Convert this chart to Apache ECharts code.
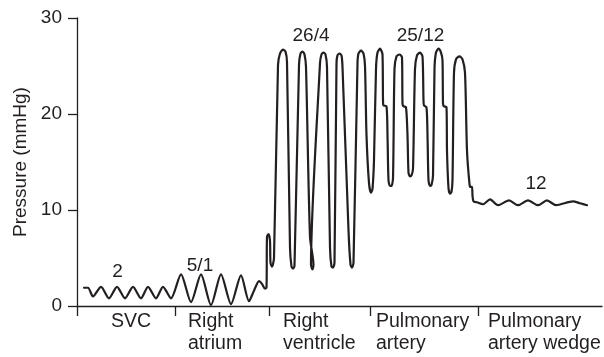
<!DOCTYPE html>
<html>
<head>
<meta charset="utf-8">
<script src="https://cdn.jsdelivr.net/npm/echarts@6/dist/echarts.min.js"></script>
<style>
html,body{margin:0;padding:0;background:#fff;}
#c{width:604px;height:357px;}
</style>
</head>
<body>
<div id="c"></div>
<script>
// Chamber categories (x-axis) and where each region starts / its label sits
var categories = ["SVC", "Right\natrium", "Right\nventricle", "Pulmonary\nartery", "Pulmonary\nartery wedge"];
var boundaries = [0, 98, 192, 293, 401];
var labelPos = [34, 111, 206, 299, 411];
var yTicks = [0, 10, 20, 30];

// Pressure trace (time units, mmHg)
var traceX = [
  7, 11, 16, 24, 32, 40, 48, 56, 64, 71, 79, 86, 94,
  104, 114, 124, 134, 144, 154, 164, 172, 177, 182, 185, 188,
  189.5, 190, 191.5, 193, 193.5, 195,
  197, 201, 203, 206, 208.5, 210, 213, 214.5, 216, 217.5,
  222, 223.5, 225.5, 227.5, 229, 233, 236.5, 235.5, 234,
  243, 244.5, 246.5, 248.5, 250, 253, 254.5, 256, 257.5,
  259.5, 260.5, 262.5, 264.5, 265.5, 271.5, 273.5, 275, 276.5,
  280.5, 281.5, 284, 286.5, 288, 289.5, 292, 294, 295.5,
  297, 299, 300.5, 303, 305.5, 306, 306.5, 309.5, 310.5, 311.5, 313, 314.5, 316,
  317.5, 319.5, 322.5, 325, 325.5, 326.5, 329, 330.5, 331.5, 333, 334.5, 336,
  338, 340, 343, 345.5, 346.5, 347, 349.5, 350.5, 351.5, 353, 354.5, 356,
  357.5, 359, 361.5, 364, 365.5, 366, 367, 369.5, 370, 371.5, 373, 374.5, 375.5,
  377, 379, 382.5, 385.5, 388, 390, 392.5, 393.5, 395, 395.5, 396.5, 400,
  406, 413, 421, 432, 441, 451, 461, 470, 479, 496, 503, 510
];
var traceY = [
  1.9, 1.9, 1.0, 2.0, 0.8, 2.0, 0.8, 2.0, 0.8, 2.0, 0.8, 2.0, 0.8,
  3.3, 0.4, 3.3, 0.1, 3.3, 0.2, 3.2, 0.5, 1.6, 2.6, 2.3, 1.8,
  1.9, 7.2, 7.5, 6.8, 4.5, 4.1,
  5.0, 25.1, 26.3, 26.7, 26.5, 25.4, 6.1, 4.1, 3.9, 4.2,
  25.1, 26.3, 26.5, 26.2, 24.9, 7.2, 4.3, 3.8, 4.3,
  25.3, 26.2, 26.4, 26.2, 24.9, 6.1, 4.1, 4.0, 4.5,
  25.3, 26.1, 26.3, 26.1, 24.9, 7.9, 4.3, 4.0, 4.5,
  25.3, 26.3, 26.6, 26.3, 25.0, 17.8, 12.8, 11.8, 12.2,
  15.2, 24.7, 26.4, 26.8, 26.2, 21.4, 20.9, 20.8, 17.8, 13.1, 12.5, 12.5, 13.3,
  24.7, 26.0, 26.2, 25.9, 21.1, 20.8, 20.7, 17.8, 13.9, 13.5, 13.6, 14.3,
  24.7, 26.1, 26.4, 26.0, 21.4, 20.9, 20.7, 17.8, 13.1, 12.5, 12.6, 13.6,
  24.7, 26.4, 26.8, 26.4, 25.6, 21.1, 20.8, 20.7, 16.2, 12.3, 11.7, 11.9, 13.1,
  24.3, 25.7, 26.0, 25.7, 24.3, 16.2, 12.7, 12.4, 12.4, 11.5, 10.9, 10.8,
  10.6, 11.1, 10.5, 11.0, 10.5, 11.0, 10.5, 11.0, 10.5, 10.9, 10.7, 10.5
];

// Pressure annotations
var annoText = ["2", "5/1", "26/4", "25/12", "12"];
var annoX = [40.5, 123, 234, 343.5, 459];
var annoY = [3.6, 4.2, 28.1, 28.1, 12.7];

var FONT = "'Liberation Sans', Arial, Helvetica, sans-serif";
var INK = "#231f20";

var traceData = traceX.map(function (x, i) { return [x, traceY[i]]; });
var annoData = annoX.map(function (x, i) { return [x, annoY[i], annoText[i]]; });

var chart = echarts.init(document.getElementById('c'), null, {renderer: 'canvas'});
chart.setOption({
  animation: false,
  backgroundColor: '#ffffff',
  grid: {left: 77, right: 2, top: 18, bottom: 51},
  xAxis: {
    type: 'value', min: 0, max: 525,
    splitLine: {show: false},
    axisLine: {show: true, lineStyle: {color: INK, width: 1.3}},
    axisTick: {show: true, customValues: boundaries, length: 10, lineStyle: {color: INK, width: 1.3}},
    axisLabel: {
      show: true, customValues: labelPos, align: 'left', margin: 5,
      fontFamily: FONT, fontSize: 19.5, lineHeight: 22, color: INK,
      formatter: function (v) {
        for (var i = 0; i < labelPos.length; i++) { if (Math.abs(labelPos[i] - v) < 0.01) return categories[i]; }
        return '';
      }
    }
  },
  yAxis: {
    type: 'value', min: 0, max: 30, interval: 10,
    splitLine: {show: false},
    axisLine: {show: true, lineStyle: {color: INK, width: 1.3}},
    axisTick: {show: true, length: 9, lineStyle: {color: INK, width: 1.3}},
    axisLabel: {fontFamily: FONT, fontSize: 19, color: INK, margin: 15},
    name: 'Pressure (mmHg)', nameLocation: 'middle', nameGap: 45,
    nameTextStyle: {fontFamily: FONT, fontSize: 19, color: INK}
  },
  series: [
    {
      type: 'line', data: traceData, showSymbol: false, smooth: 0.25,
      lineStyle: {color: INK, width: 2.2, join: 'round', cap: 'round'},
      silent: true
    },
    {
      type: 'scatter', data: annoData, symbol: 'circle', symbolSize: 0,
      itemStyle: {color: INK, opacity: 1},
      label: {
        show: true, position: [0, 0], align: 'center', verticalAlign: 'middle',
        fontFamily: FONT, fontSize: 19, color: INK, opacity: 1,
        textBorderWidth: 0,
        formatter: function (p) { return p.data[2]; }
      },
      silent: true
    }
  ]
});
</script>
</body>
</html>
